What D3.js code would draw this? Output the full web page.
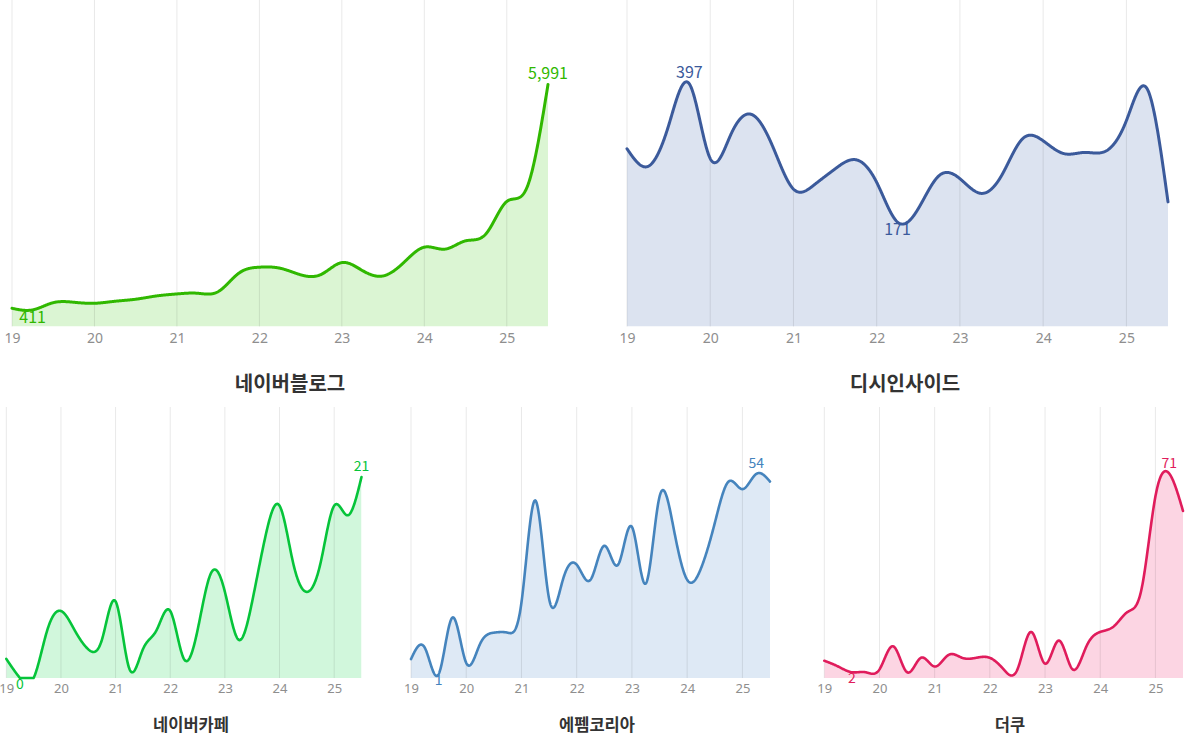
<!DOCTYPE html>
<html>
<head>
<meta charset="utf-8">
<script src="https://cdn.jsdelivr.net/npm/d3@7"></script>
<style>
  body { margin: 0; background: #fff; }
  svg { display: block; font-family: "Noto Sans CJK KR", "Noto Sans", sans-serif; }
</style>
</head>
<body>
<div id="chart"></div>
<script>
// 분기별 (19 = 2019년 1분기 ... 25.5 = 2025년 3분기)
const quarters = [2019, 2019.25, 2019.5, 2019.75, 2020, 2020.25, 2020.5, 2020.75,
  2021, 2021.25, 2021.5, 2021.75, 2022, 2022.25, 2022.5, 2022.75,
  2023, 2023.25, 2023.5, 2023.75, 2024, 2024.25, 2024.5, 2024.75,
  2025, 2025.25, 2025.5]
const yearTicks = [2019, 2020, 2021, 2022, 2023, 2024, 2025]
const yearLabels = ['19', '20', '21', '22', '23', '24', '25']

const blogValues = [451, 411, 590, 600, 575, 625, 675, 756, 806, 823, 863, 1319, 1468,
  1443, 1280, 1290, 1582, 1384, 1252, 1582, 1964, 1915, 2120, 2300, 3095, 3467, 5991]
const dcValues = [291, 262, 329, 397, 275, 315, 347, 295, 225, 232, 258, 273, 236,
  171, 193, 247, 242, 218, 247, 307, 304, 283, 285, 287, 337, 389, 204]
const cafeValues = [2, 0, 0, 5, 7, 5, 3, 4, 8, 1, 3, 5, 7,
  2, 5, 11, 9, 4, 8, 15, 18, 12, 9, 12, 18, 17, 21]
const fmValues = [5, 8, 1, 16, 4, 9, 12, 12, 20, 47, 21, 26, 30,
  26, 35, 30, 40, 25, 48, 40, 26, 29, 41, 52, 50, 54, 52]
const theqooValues = [6, 4, 2, 2, 3, 11, 2, 7, 4, 8, 7, 7, 7,
  3, 3, 16, 5, 13, 3, 11, 16, 18, 23, 31, 63, 71, 58]

const titles = ['네이버블로그', '디시인사이드', '네이버카페', '에펨코리아', '더쿠']

const svg = d3.select('#chart').append('svg')
  .attr('width', 1185)
  .attr('height', 737)

const fmt = d3.format(',')

// 큰 차트 2개 + 작은 차트 3개
const panels = [
  {values: blogValues, line: '#30b800', fill: '#dbf5d3', x0: 12, x1: 548, top: 0, peak: 84.5, base: 326.5,
    lw: 3, tickSize: 14, labelSize: 16, titleX: 290, titleY: 391, titleSize: 20},
  {values: dcValues, line: '#3b5a9b', fill: '#dce3f0', x0: 627, x1: 1168, top: 0, peak: 84, base: 326.5,
    lw: 3, tickSize: 14, labelSize: 16, titleX: 905, titleY: 391, titleSize: 20},
  {values: cafeValues, line: '#06c43a', fill: '#d1f7dc', x0: 6.3, x1: 361.5, top: 407, peak: 477, base: 678,
    lw: 2.6, tickSize: 13, labelSize: 14, titleX: 191, titleY: 731, titleSize: 16.5},
  {values: fmValues, line: '#4584bd', fill: '#dee9f5', x0: 411, x1: 770, top: 407, peak: 474, base: 678,
    lw: 2.6, tickSize: 13, labelSize: 14, titleX: 597, titleY: 731, titleSize: 16.5},
  {values: theqooValues, line: '#e01c5c', fill: '#fcd5e3', x0: 824.3, x1: 1183, top: 407, peak: 473.5, base: 678,
    lw: 2.6, tickSize: 13, labelSize: 14, titleX: 1010, titleY: 731, titleSize: 16.5}
]

panels.forEach(function (p, i) {
  const g = svg.append('g')

  const x = d3.scaleLinear()
    .domain([quarters[0], quarters[quarters.length - 1]])
    .range([p.x0, p.x1])

  const y = d3.scaleLinear()
    .domain([0, d3.max(p.values)])
    .range([p.base, p.peak])

  g.append('clipPath').attr('id', 'area-clip-' + i)
    .append('rect')
    .attr('x', p.x0).attr('y', p.top)
    .attr('width', p.x1 - p.x0).attr('height', p.base - p.top)

  const area = d3.area()
    .x((d, j) => x(quarters[j]))
    .y0(p.base)
    .y1(d => y(d))
    .curve(d3.curveNatural)

  const line = d3.line()
    .x((d, j) => x(quarters[j]))
    .y(d => y(d))
    .curve(d3.curveNatural)

  g.append('path')
    .datum(p.values)
    .attr('clip-path', 'url(#area-clip-' + i + ')')
    .attr('fill', p.fill)
    .attr('d', area)

  // 세로 그리드
  g.append('g')
    .selectAll('line')
    .data(yearTicks)
    .enter()
    .append('line')
    .attr('x1', d => x(d)).attr('x2', d => x(d))
    .attr('y1', p.top).attr('y2', p.base)
    .attr('stroke', 'rgba(0,0,0,0.09)')
    .attr('stroke-width', 1)

  // 곡선이 0 아래로 내려가면 바닥에 붙여서 그림
  const path = g.append('path')
    .datum(p.values)
    .attr('fill', 'none')
    .attr('stroke', p.line)
    .attr('stroke-width', p.lw)
    .attr('stroke-linejoin', 'round')
    .attr('stroke-linecap', 'round')
    .attr('d', line)
  const node = path.node()
  const len = node.getTotalLength()
  const samples = d3.range(0, len, 0.5).map(l => node.getPointAtLength(l))
  samples.push(node.getPointAtLength(len))
  path.attr('d', d3.line().x(d => d.x).y(d => Math.min(d.y, p.base))(samples))

  // x축
  const axis = g.append('g')
    .attr('transform', `translate(0,${p.base})`)
    .call(d3.axisBottom(x)
      .tickValues(yearTicks)
      .tickFormat((d, k) => yearLabels[k])
      .tickSize(0)
      .tickPadding(p.tickSize === 14 ? 7 : 6))
  axis.select('.domain').remove()
  axis.selectAll('text')
    .attr('font-size', p.tickSize)
    .attr('font-family', '"Noto Sans", "Noto Sans CJK KR", sans-serif')
    .attr('fill', '#8e8e8e')

  // 최대/최소 값 표시
  const iMax = d3.maxIndex(p.values)
  const iMin = d3.minIndex(p.values)
  g.append('text')
    .attr('x', x(quarters[iMax]))
    .attr('y', y(p.values[iMax]) - 6)
    .attr('text-anchor', 'middle')
    .attr('font-size', p.labelSize)
    .attr('fill', p.line)
    .text(fmt(p.values[iMax]))
  g.append('text')
    .attr('x', x(quarters[iMin]))
    .attr('y', y(p.values[iMin]) - 2)
    .attr('dominant-baseline', 'hanging')
    .attr('text-anchor', 'middle')
    .attr('font-size', p.labelSize)
    .attr('fill', p.line)
    .text(fmt(p.values[iMin]))

  g.append('text')
    .attr('x', p.titleX)
    .attr('y', p.titleY)
    .attr('text-anchor', 'middle')
    .attr('font-size', p.titleSize)
    .attr('font-weight', 'bold')
    .attr('fill', '#333')
    .text(titles[i])
})
</script>
</body>
</html>
